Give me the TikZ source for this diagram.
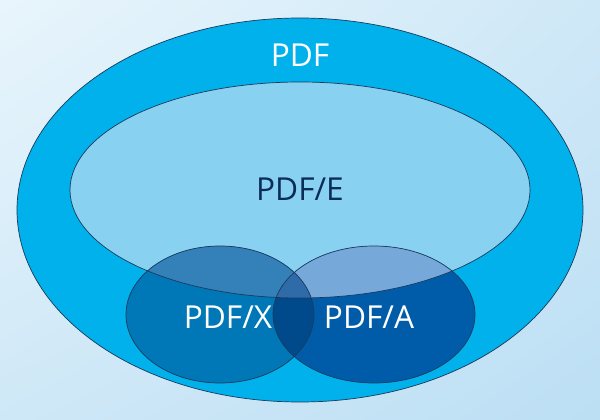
\documentclass[tikz,border=0pt]{standalone}
\usepackage{fontspec}
\setmainfont{Open Sans}
\usetikzlibrary{positioning, shadings}
\definecolor{bgA}{HTML}{E8F5FC}
\definecolor{bgB}{HTML}{BCDFF4}
\definecolor{bgC}{HTML}{CFE8F7}
\definecolor{pdfblue}{HTML}{00B1EB}
\definecolor{pdfE}{HTML}{88D1F1}
\definecolor{pdfXout}{HTML}{0077B6}
\definecolor{pdfAout}{HTML}{005CA9}
\definecolor{pdfXAout}{HTML}{004A8C}
\definecolor{pdfXin}{HTML}{3481B9}
\definecolor{pdfAin}{HTML}{76A9D9}
\definecolor{pdfXAin}{HTML}{2F6BA8}
\definecolor{rim}{HTML}{1B3A5C}
\definecolor{navy}{HTML}{0B2D55}
\def\shapeOuter{(300,210) ellipse [x radius=283, y radius=192]}
\def\shapeE{(300,190) ellipse [x radius=230, y radius=108]}
\def\shapeX{(220,314.5) ellipse [x radius=94, y radius=68.5]}
\def\shapeA{(374,314.5) ellipse [x radius=101, y radius=68.5]}
\begin{document}
\begin{tikzpicture}[x=0.025cm, y=-0.025cm, rim line/.style={draw=rim, line width=0.5pt}, every node/.style={font=\fontsize{22.5}{26}\selectfont, inner sep=0pt}]
\useasboundingbox (0,0) rectangle (600,420);
\shade[upper left=bgA, upper right=bgC, lower left=bgC, lower right=bgB] (0,0) rectangle (600,420);
\path[fill=pdfblue, rim line] \shapeOuter;
\path[fill=pdfE] \shapeE;
\path[fill=pdfXout] \shapeX;
\path[fill=pdfAout] \shapeA;
\begin{scope}
  \clip \shapeX;
  \path[fill=pdfXAout] \shapeA;
\end{scope}
\begin{scope}
  \clip \shapeE;
  \path[fill=pdfXin] \shapeX;
  \path[fill=pdfAin] \shapeA;
  \clip \shapeX;
  \path[fill=pdfXAin] \shapeA;
\end{scope}
\path[rim line] \shapeE;
\path[rim line] \shapeX;
\path[rim line] \shapeA;
\node[text=white] (pdf) at (300,55) {PDF};
\node[text=navy] (pdfe) at (300,189) {PDF/E};
\node[text=white] (pdfx) at (228,317) {PDF/X};
\node[text=white] (pdfa) at (369,317) {PDF/A};
\end{tikzpicture}
\end{document}
